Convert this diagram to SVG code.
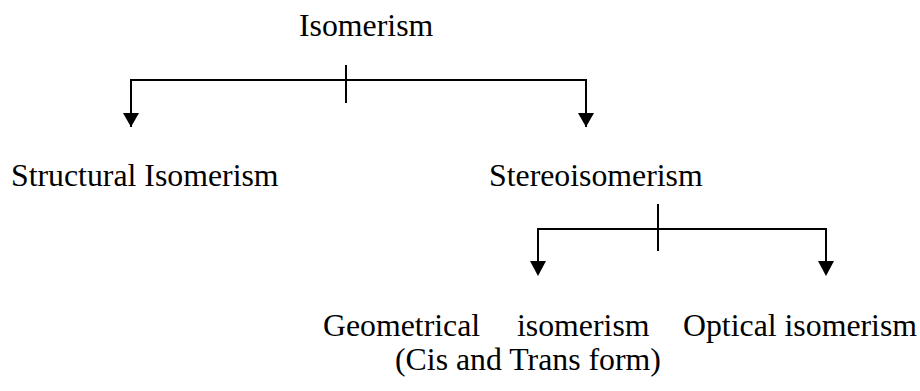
<svg xmlns="http://www.w3.org/2000/svg" width="920" height="391" viewBox="0 0 920 391">
<style>
text{font-family:"Liberation Serif","Times New Roman",serif;font-size:31.8px;fill:#000}
.ln{stroke:#000;stroke-width:2;fill:none}
</style>
<defs>
<marker id="ah" markerWidth="16" markerHeight="15" refX="8" refY="15" orient="0" markerUnits="userSpaceOnUse" viewBox="0 0 16 15">
<path d="M0,0 L16,0 L8,15 Z" fill="#000"/>
</marker>
</defs>
<rect width="920" height="391" fill="#fff"/>
<g id="connectors">
<line class="ln" x1="346" y1="65" x2="346" y2="103"/>
<polyline class="ln" points="131,127 131,80 586,80 586,127" />
<path d="M123,113 L139,113 L131,127 Z" fill="#000"/>
<path d="M578,113 L594,113 L586,127 Z" fill="#000"/>
<line class="ln" x1="658" y1="204" x2="658" y2="251"/>
<polyline class="ln" points="538,270 538,229 826,229 826,270"/>
<path d="M530,261 L546,261 L538,276 Z" fill="#000"/>
<path d="M818,261 L834,261 L826,276 Z" fill="#000"/>
</g>
<g id="isomerism"><text x="299" y="36">Isomerism</text></g>
<g id="structural"><text x="11" y="186">Structural Isomerism</text></g>
<g id="stereo"><text x="489" y="186">Stereoisomerism</text></g>
<g id="geometrical">
<text x="323" y="336">Geometrical</text>
<text x="517" y="336">isomerism</text>
<text x="395" y="370">(Cis and Trans form)</text>
</g>
<g id="optical"><text x="683" y="336">Optical isomerism</text></g>
</svg>
